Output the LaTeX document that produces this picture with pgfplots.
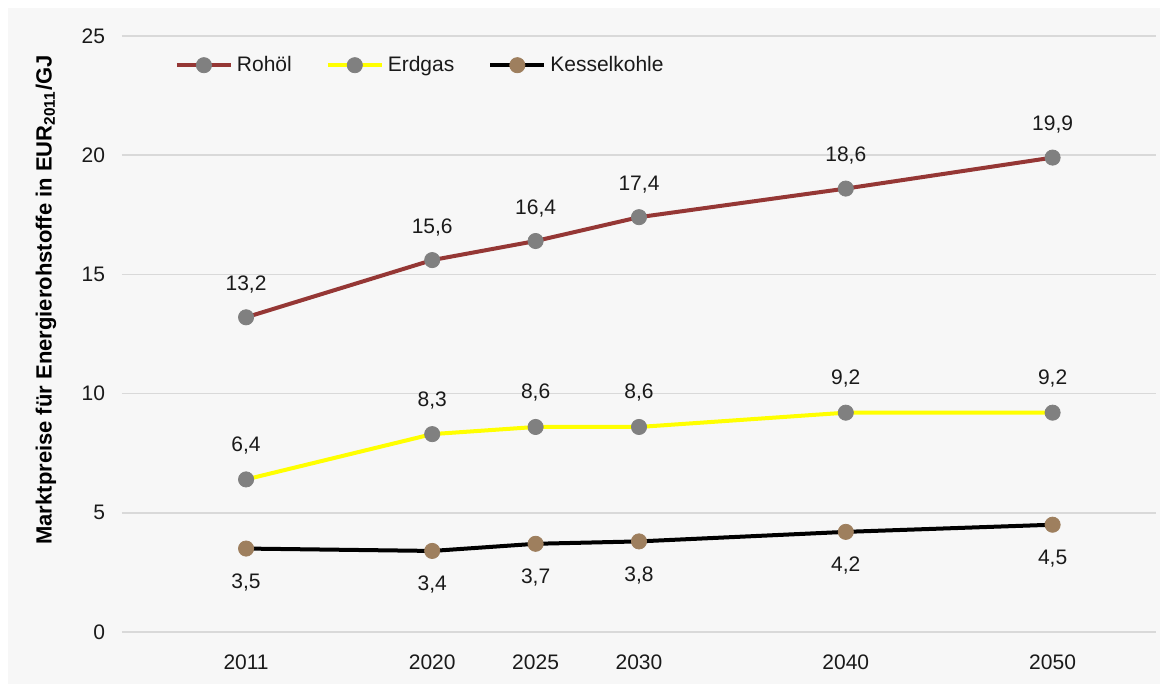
\documentclass[border=0pt]{standalone}
\usepackage{pgfplots}
\pgfplotsset{compat=1.18}
\usepackage{fontspec}
\setmainfont{Liberation Sans}
\definecolor{bg}{HTML}{F7F7F7}
\definecolor{gridc}{HTML}{D9D9D9}
\definecolor{oil}{HTML}{953735}
\definecolor{mk}{HTML}{808080}
\definecolor{gasc}{HTML}{FFFF00}
\definecolor{coalmk}{HTML}{9E7F5E}
\definecolor{txt}{HTML}{1A1A1A}
\begin{document}
\begin{tikzpicture}
\useasboundingbox (0pt,0pt) rectangle (581.5pt,343pt);
\fill[white] (0pt,0pt) rectangle (581.5pt,343pt);
\fill[bg] (4pt,1pt) rectangle (580pt,339pt);
\begin{axis}[
  at={(61pt,27pt)}, anchor=south west, scale only axis,
  width=517pt, height=298pt,
  xmin=2005, xmax=2055, ymin=0, ymax=25,
  clip=false,
  xtick={2011,2020,2025,2030,2040,2050},
  xticklabels={2011,2020,2025,2030,2040,2050},
  ytick={0,5,10,15,20,25},
  ymajorgrids, grid style={gridc, line width=0.75pt},
  axis line style={draw=none}, major tick length=0pt,
  /pgf/number format/assume math mode=true,
  tick label style={font=\fontsize{10.5}{12}\selectfont, text=txt},
  xticklabel style={yshift=-8pt},
  yticklabel style={xshift=-5pt},
  ylabel={\textbf{Marktpreise für Energierohstoffe in EUR\textsubscript{2011}/GJ}},
  ylabel style={at={(rel axis cs:-0.0735,0.557)}, anchor=center, font=\fontsize{11}{13}\selectfont, text=black},
  legend style={at={(rel axis cs:0.045,0.951)}, anchor=west, draw=none, fill=none,
    font=\fontsize{10.5}{12}\selectfont, text=txt,
    /tikz/every even column/.append style={column sep=15pt}},
  legend columns=3,
  legend image code/.code={\draw[mark repeat=2,mark phase=2,#1] plot coordinates {(0pt,0pt) (13.5pt,0pt) (27pt,0pt)};},
  nodes near coords={\pgfmathprintnumber[use comma,fixed,fixed zerofill,precision=1,assume math mode=true]{\pgfplotspointmeta}},
  every node near coord/.append style={font=\fontsize{10.5}{12}\selectfont, text=txt, anchor=center},
]
\addplot[color=oil, line width=2pt, mark=*, mark size=3.8pt, mark options={fill=mk, draw=mk, line width=0.4pt},
  every node near coord/.append style={yshift=16.5pt}]
  coordinates {(2011,13.2) (2020,15.6) (2025,16.4) (2030,17.4) (2040,18.6) (2050,19.9)};
\addlegendentry{Rohöl}
\addplot[color=gasc, line width=2pt, mark=*, mark size=3.8pt, mark options={fill=mk, draw=mk, line width=0.4pt},
  every node near coord/.append style={yshift=17pt}]
  coordinates {(2011,6.4) (2020,8.3) (2025,8.6) (2030,8.6) (2040,9.2) (2050,9.2)};
\addlegendentry{Erdgas}
\addplot[color=black, line width=2pt, mark=*, mark size=3.8pt, mark options={fill=coalmk, draw=coalmk, line width=0.4pt},
  every node near coord/.append style={yshift=-17pt}]
  coordinates {(2011,3.5) (2020,3.4) (2025,3.7) (2030,3.8) (2040,4.2) (2050,4.5)};
\addlegendentry{Kesselkohle}
\end{axis}
\end{tikzpicture}
\end{document}
